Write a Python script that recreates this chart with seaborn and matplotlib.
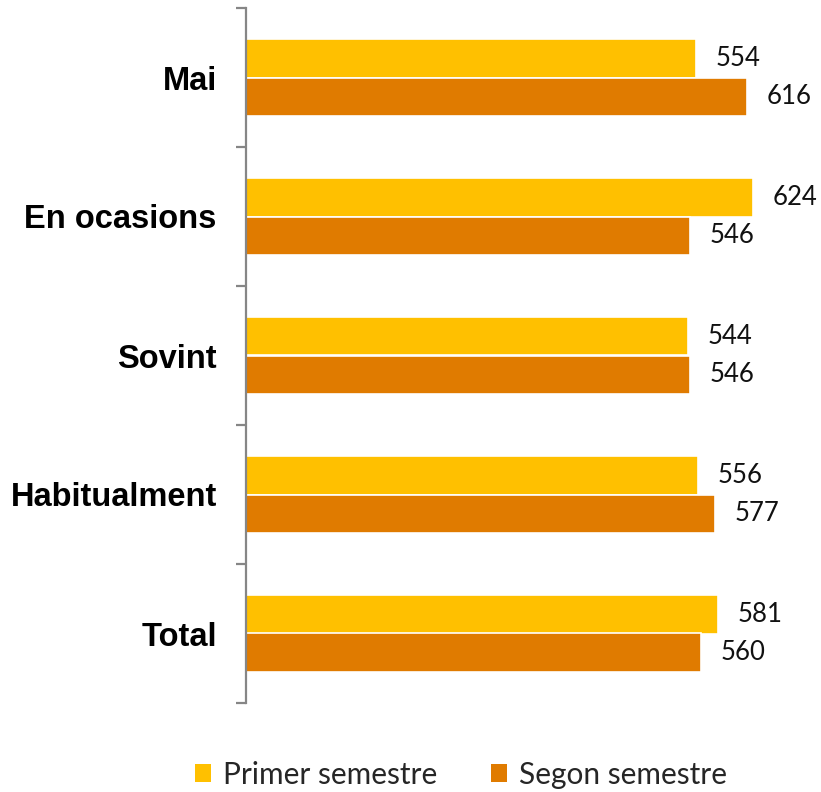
import matplotlib
matplotlib.use("Agg")
import matplotlib.pyplot as plt
from matplotlib.patches import Patch
import seaborn as sns
import pandas as pd

categories = ["Mai", "En ocasions", "Sovint", "Habitualment", "Total"]
series_names = ["Primer semestre", "Segon semestre"]
primer = [554, 624, 544, 556, 581]
segon = [616, 546, 546, 577, 560]
colors = ["#FFC000", "#E07B00"]

rows = []
for c, a, b in zip(categories, primer, segon):
    rows.append({"cat": c, "serie": series_names[0], "val": a})
    rows.append({"cat": c, "serie": series_names[1], "val": b})
df = pd.DataFrame(rows)

sns.set_theme(style="white")
plt.rcParams["font.family"] = ["Lato", "DejaVu Sans"]

fig = plt.figure(figsize=(8.21, 7.92), dpi=100)
ax = fig.add_axes([246 / 821, 1 - 703 / 792, 569 / 821, 695 / 792])

sns.barplot(data=df, y="cat", x="val", hue="serie", order=categories,
            hue_order=series_names, palette=colors, saturation=1, orient="h",
            width=0.56, edgecolor="white", linewidth=1.2, ax=ax, legend=False)

ax.set_xlim(0, 700)
ax.set_ylim(4.5, -0.5)
ax.xaxis.set_visible(False)
for s in ["top", "right", "bottom"]:
    ax.spines[s].set_visible(False)
ax.spines["left"].set_color("#868686")
ax.spines["left"].set_linewidth(1.6)
ax.set_ylabel("")
ax.set_xlabel("")

ax.set_yticks(range(len(categories)))
ax.set_yticklabels(categories, fontfamily=["Liberation Sans", "DejaVu Sans"],
                   fontweight="bold", fontsize=23.5, color="black")
ax.tick_params(axis="y", which="major", length=0, pad=21)
ax.set_yticks([i - 0.5 for i in range(len(categories) + 1)], minor=True)
ax.tick_params(axis="y", which="minor", length=7, width=1.6, color="#868686",
               direction="out", left=True)

for cont in ax.containers:
    ax.bar_label(cont, fmt="%d", padding=14, fontsize=18.5, color="#111111")

handles = [Patch(facecolor=c, edgecolor="none") for c in colors]
fig.legend(handles, series_names, loc="center", bbox_to_anchor=(0.5615, 0.022),
           ncol=2, frameon=False, fontsize=21.5, handlelength=0.55, handleheight=0.55,
           handletextpad=0.4, columnspacing=1.8)

fig.savefig("out.png", dpi=100)
